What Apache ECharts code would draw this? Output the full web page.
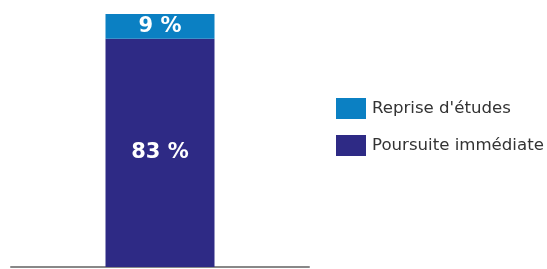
<!DOCTYPE html>
<html><head><meta charset="utf-8">
<script src="https://cdn.jsdelivr.net/npm/echarts@6/dist/echarts.min.js"></script>
<style>html,body{margin:0;padding:0;background:#fff}#c{width:547px;height:269px}</style>
</head><body><div id="c"></div>
<script>
var categories = ['Total'];
var seriesNames = ['Poursuite immédiate', 'Reprise d\'études'];
var poursuite = [83];
var reprise = [9];
var legendOrder = ['Reprise d\'études', 'Poursuite immédiate'];

var chart = echarts.init(document.getElementById('c'));
var labelStyle = {show: true, position: 'inside', color: '#fff', fontFamily: 'DejaVu Sans', fontWeight: 'bold', fontSize: 21, formatter: function(p){return p.value + ' %';}};
chart.setOption({
  animation: false,
  grid: {left: 11, right: 238, top: 14, bottom: 2, containLabel: false},
  legend: {
    data: legendOrder, orient: 'vertical', left: 331, top: 93,
    itemWidth: 30, itemHeight: 21, itemGap: 16,
    icon: 'rect',
    textStyle: {fontFamily: 'DejaVu Sans', fontSize: 16.6, color: '#333', padding: [0,0,0,1]}
  },
  xAxis: {type: 'category', data: categories, axisTick: {show: false}, axisLabel: {show: false},
    axisLine: {lineStyle: {color: '#888', width: 2}}},
  yAxis: {type: 'value', min: 0, max: 92, show: false, splitLine: {show: false}},
  series: [
    {name: seriesNames[0], type: 'bar', stack: 's', data: poursuite, barWidth: 109,
     itemStyle: {color: '#2e2a85'}, label: labelStyle},
    {name: seriesNames[1], type: 'bar', stack: 's', data: reprise, barWidth: 109,
     itemStyle: {color: '#0b80c3'}, label: labelStyle}
  ]
});
</script></body></html>
